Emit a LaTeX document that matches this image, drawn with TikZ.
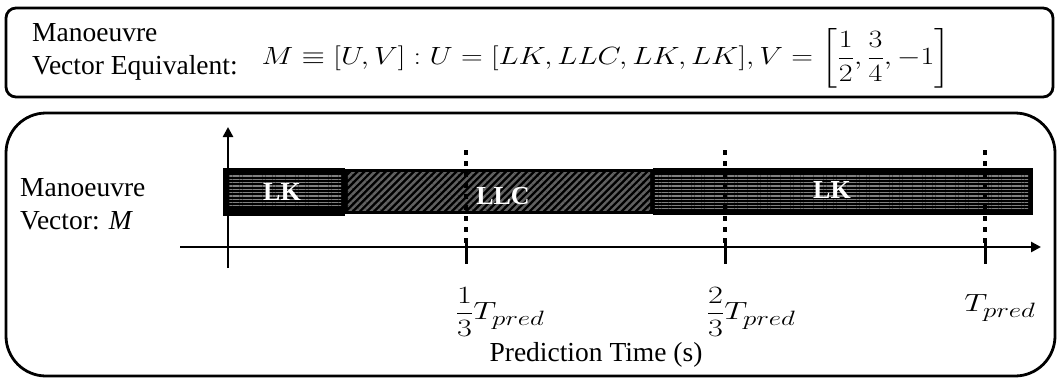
\documentclass[tikz,border=0pt]{standalone}
\usepackage{amsmath}
\usepackage{fontspec}
\setmainfont{LiberationSerif}[Extension=.ttf, UprightFont=*-Regular, BoldFont=*-Bold, ItalicFont=*-Italic, BoldItalicFont=*-BoldItalic]
\usetikzlibrary{patterns.meta,arrows.meta}
\begin{document}
\begin{tikzpicture}[x=1pt,y=-1pt,
  frame/.style={draw=black,line width=2.8pt},
  txt/.style={font=\rmfamily\fontsize{27.5}{33}\selectfont, align=left, inner sep=0},
  barbox/.style={fill=black, inner sep=0, draw=none},
  lkfill/.style={pattern={Lines[angle=0,distance=3.3pt,line width=1.3pt]},pattern color=gray},
  llcfill/.style={pattern={Lines[angle=45,distance=5pt,line width=2.4pt]},pattern color=black!62},
  barlabel/.style={font=\rmfamily\fontsize{26}{30}\selectfont\bfseries, text=white, inner sep=0},
  axis/.style={line width=2.6pt},
  dotline/.style={line width=4pt, dash pattern=on 5pt off 6pt},
  tick/.style={line width=3pt},
  mathlabel/.style={font=\fontsize{31}{34}\selectfont, inner sep=0}
]
\useasboundingbox (0,0) rectangle (1062,384);
% frames
\draw[frame, rounded corners=10pt] (6,8) rectangle (1053,97);
\draw[frame, rounded corners=40pt] (6,113) rectangle (1055,376);
% top texts
\node[txt, anchor=west] (topl) at (32,52) {Manoeuvre\\Vector Equivalent:};
\node[inner sep=0, font=\fontsize{29}{30}\selectfont] (formula) at (606,58)
  {\scalebox{1.21}[1]{$M\equiv[U,V] : U=[LK,LLC,LK,LK],V=\left[\dfrac{1}{2},\dfrac{3}{4},-1\right]$}};
% left label
\node[txt, anchor=west] (botl) at (20,204) {Manoeuvre\\Vector: \textit{M}};
% bars
\node[barbox, minimum width=122pt, minimum height=48pt] (lk1) at (284,192) {};
\node[barbox, minimum width=308pt, minimum height=45pt] (llc) at (499,191.5) {};
\node[barbox, minimum width=380pt, minimum height=47pt] (lk2) at (843,191.5) {};
\fill[lkfill] ([shift={(5,7)}]lk1.north west) rectangle ([shift={(-4,-9)}]lk1.south east);
\fill[llcfill] ([shift={(3,4)}]llc.north west) rectangle ([shift={(-3,-4)}]llc.south east);
\fill[lkfill] ([shift={(2,7)}]lk2.north west) rectangle ([shift={(-5,-7)}]lk2.south east);
\node[barlabel] (lk1t) at (282,192) {LK};
\node[barlabel] (llct) at (503,196) {LLC};
\node[barlabel] (lk2t) at (832,190) {LK};
% axes
\coordinate (yb) at (228,268);
\coordinate (yt) at (228,127);
\coordinate (xl) at (180,247);
\coordinate (xr) at (1041,247);
\draw[axis, -{Triangle[length=10pt,width=10pt]}] (yb) -- (yt);
\draw[axis, -{Triangle[length=10pt,width=10pt]}] (xl) -- (xr);
% dotted lines and ticks
\foreach \n/\x in {a/466,b/725,c/985}{
  \coordinate (\n top) at (\x,150);
  \coordinate (\n mid) at (\x,243);
  \coordinate (\n bot) at (\x,264);
  \draw[dotline] (\n top) -- (\n mid);
  \draw[tick] (\n mid) -- (\n bot);
}
% tick labels
\node[mathlabel] (l1) at (500,312) {\scalebox{1.3}[1]{$\dfrac{1}{3}T_{pred}$}};
\node[mathlabel] (l2) at (751,312) {\scalebox{1.3}[1]{$\dfrac{2}{3}T_{pred}$}};
\node[mathlabel] (l3) at (1000,308) {\scalebox{1.3}[1]{$T_{pred}$}};
\node[txt] (xlab) at (596,355) {Prediction Time (s)};
\end{tikzpicture}
\end{document}
